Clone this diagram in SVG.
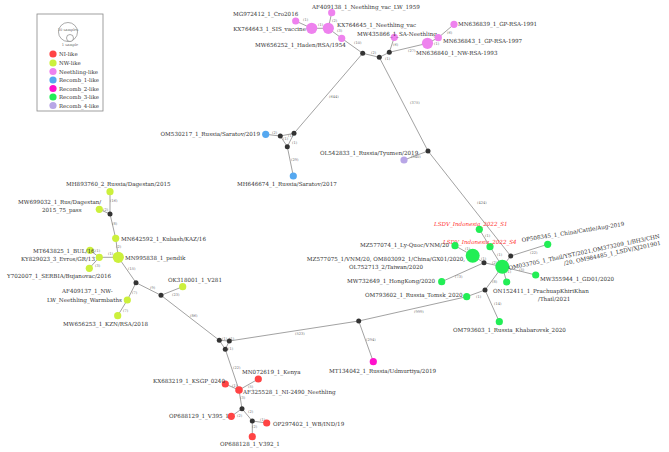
<svg xmlns="http://www.w3.org/2000/svg" width="669" height="452" viewBox="0 0 669 452">
<style>
.e{stroke:#8a8a8a;stroke-width:0.8;fill:none}
.t{font-family:"DejaVu Serif",serif;font-size:5.6px;fill:#333}
.r{font-family:"DejaVu Serif",serif;font-size:5.6px;fill:#ff3333;font-style:italic}
.l{font-family:"DejaVu Serif",serif;font-size:3.6px;fill:#666}
.lg{font-family:"DejaVu Serif",serif;font-size:5.4px;fill:#333}
.b{fill:#333}
.ni{fill:#ff4444}.nw{fill:#ccf03c}.ne{fill:#ee82ee}.r1{fill:#55a8f0}.r2{fill:#ff11cc}.r3{fill:#22ee55}.r4{fill:#b8a6e6}
</style>
<rect width="669" height="452" fill="#fff"/>
<g id="legend">
<rect x="37" y="14" width="66" height="97" fill="#fff" stroke="#888" stroke-width="0.8"/>
<circle cx="68" cy="32" r="9.5" fill="#fff" stroke="#555" stroke-width="0.5"/>
<circle cx="70" cy="38" r="3.5" fill="#fff" stroke="#555" stroke-width="0.5"/>
<text x="68" y="31" class="l" text-anchor="middle" font-size="2.6">10 samples</text>
<text x="70" y="46" class="l" text-anchor="middle" font-size="2.6">1 sample</text>
<circle cx="53" cy="54" r="3.6" class="ni"/><text x="59" y="56" class="lg">NI-like</text>
<circle cx="53" cy="63" r="3.6" class="nw"/><text x="59" y="65" class="lg">NW-like</text>
<circle cx="53" cy="71.5" r="3.6" class="ne"/><text x="59" y="73.5" class="lg">Neethling-like</text>
<circle cx="53" cy="80" r="3.6" class="r1"/><text x="59" y="82" class="lg">Recomb_1-like</text>
<circle cx="53" cy="88.5" r="3.6" class="r2"/><text x="59" y="90.5" class="lg">Recomb_2-like</text>
<circle cx="53" cy="97" r="3.6" class="r3"/><text x="59" y="99" class="lg">Recomb_3-like</text>
<circle cx="53" cy="105.5" r="3.6" class="r4"/><text x="59" y="107.5" class="lg">Recomb_4-like</text>
</g>
<g id="connectors">
<path class="e" d="M295.7,21L311.7,28.3M331.7,12.7L328.3,28.3M311.7,28.3L328.3,28.3M328.3,28.3L341.7,38.3L362.7,53.3L379.3,57.3L389.3,52.3L394.3,37.3M389.3,52.3L427.5,43.3L438.3,37.7L454,24.3"/>
<path class="e" d="M362.7,53.3L294,133.3M379.3,57.3L428,151L510.7,256M428,151L404,160"/>
<path class="e" d="M294,133.3L280.3,136L265.7,134.3M294,133.3L287.3,146.7L280.3,136M287.3,146.7L293.3,176"/>
<path class="e" d="M510.7,256L547.7,244.3M510.7,256L502.3,266.7L490,246.7L479.3,229.3M502.3,266.7L484,262.7L472.7,255.7L455,245.7M484,262.7L441.7,281.7M502.3,266.7L535.7,275M502.3,266.7L506.7,282M502.3,266.7L485,290L466.7,296.7M485,290L499.3,321.7"/>
<path class="e" d="M466.7,296.7L358.7,321L229.3,341M358.7,321L373.3,361.7M229.3,341L219.3,340.3L225.3,349.3L229.3,341M219.3,340.3L161,295.3"/>
<path class="e" d="M225.3,349.3L239,390L225.3,384M239,390L258.3,379M239,390L242,408.7L231.3,416.3M242,408.7L252.3,421L266.7,423M252.3,421L252.3,436.7"/>
<path class="e" d="M161,295.3L182.7,286.7M161,295.3L136,282.7L127.3,300L117.7,315.7M136,282.7L118.3,257.3L99.3,257.3L90,250.3M99.3,257.3L89.3,268.3M118.3,257.3L115.7,238.3L110,214L110,191.7M110,214L99.3,209.3"/>
<g class="l">
<text x="303" y="21">(1)</text><text x="318" y="26">(1)</text><text x="332" y="22">(2)</text><text x="337" y="32">(3)</text>
<text x="354" y="44">(10)</text><text x="371" y="54">(2)</text><text x="385" y="60">(1)</text><text x="393" y="46">(6)</text>
<text x="408" y="52">(27)</text><text x="434" y="45">(1)</text><text x="447" y="34">(6)</text>
<text x="329" y="98">(644)</text><text x="410" y="104">(375)</text><text x="477" y="204">(424)</text><text x="411" y="158">(340)</text>
<text x="272" y="134">(2)</text><text x="283" y="140">(1)</text><text x="288" y="137">(1)</text><text x="292" y="144">(1)</text><text x="291" y="161">(29)</text>
<text x="485" y="237">(1)</text><text x="497" y="256">(1)</text><text x="465" y="250">(1)</text><text x="481" y="260">(1)</text><text x="492" y="264">(2)</text>
<text x="530" y="254">(22)</text><text x="519" y="271">(5)</text><text x="506" y="273">(1)</text><text x="455" y="278">(73)</text>
<text x="492" y="283">(8)</text><text x="476" y="298">(1)</text><text x="494" y="305">(14)</text>
<text x="414" y="313">(999)</text><text x="295" y="335">(523)</text><text x="366" y="341">(294)</text>
<text x="190" y="317">(86)</text><text x="233" y="369">(22)</text><text x="222" y="340">(1)</text><text x="229" y="340">(1)</text><text x="228" y="350">(1)</text>
<text x="232" y="387">(1)</text><text x="248" y="388">(5)</text><text x="240" y="399">(3)</text><text x="237" y="417">(2)</text><text x="248" y="413">(2)</text><text x="260" y="421">(1)</text><text x="252" y="428">(2)</text>
<text x="110" y="202">(16)</text><text x="103" y="211">(2)</text><text x="112" y="225">(8)</text><text x="116" y="248">(2)</text><text x="108" y="255">(1)</text><text x="95" y="252">(1)</text><text x="95" y="267">(3)</text>
<text x="128" y="270">(15)</text><text x="150" y="289">(9)</text><text x="172" y="296">(23)</text><text x="132" y="294">(7)</text><text x="123" y="312">(7)</text>
</g>
</g>
<g id="n-AF409138"><circle cx="331.7" cy="12.7" r="3.6" class="ne"/><text x="312" y="9" class="t">AF409138_1_Neethling_vac_LW_1959</text></g>
<g id="n-MG972412"><circle cx="295.7" cy="21" r="3.6" class="ne"/><text x="233" y="16" class="t">MG972412_1_Cro2016</text></g>
<g id="n-KX764643"><circle cx="311.7" cy="28.3" r="5.6" class="ne"/><text x="306" y="31" class="t" text-anchor="end">KX764643_1_SIS_vaccine</text></g>
<g id="n-KX764645"><circle cx="328.3" cy="28.3" r="5.6" class="ne"/><text x="337" y="27" class="t">KX764645_1_Neethling_vac</text></g>
<g id="n-MW656252"><circle cx="341.7" cy="38.3" r="3.6" class="ne"/><text x="255" y="47" class="t">MW656252_1_Haden/RSA/1954</text></g>
<g id="n-MW435866"><circle cx="394.3" cy="37.3" r="3.6" class="ne"/><text x="357" y="36" class="t">MW435866_1_SA-Neethling</text></g>
<g id="n-MN636840"><circle cx="427.5" cy="43.3" r="5.6" class="ne"/><text x="416" y="55" class="t">MN636840_1_NW-RSA-1993</text></g>
<g id="n-MN636843"><circle cx="438.3" cy="37.7" r="3.6" class="ne"/><text x="443" y="43" class="t">MN636843_1_GP-RSA-1997</text></g>
<g id="n-MN636839"><circle cx="454" cy="24.3" r="3.6" class="ne"/><text x="458" y="26" class="t">MN636839_1_GP-RSA-1991</text></g>
<g id="n-black"><circle cx="362.7" cy="53.3" r="2.5" class="b"/><circle cx="379.3" cy="57.3" r="2.5" class="b"/><circle cx="389.3" cy="52.3" r="2.5" class="b"/>
<circle cx="294" cy="133.3" r="2.5" class="b"/><circle cx="280.3" cy="136" r="2.5" class="b"/><circle cx="287.3" cy="146.7" r="2.5" class="b"/>
<circle cx="428" cy="151" r="2.5" class="b"/><circle cx="510.7" cy="256" r="2.5" class="b"/><circle cx="484" cy="262.7" r="2.5" class="b"/><circle cx="485" cy="290" r="2.5" class="b"/>
<circle cx="358.7" cy="321" r="2.5" class="b"/><circle cx="229.3" cy="341" r="2.5" class="b"/><circle cx="219.3" cy="340.3" r="2.5" class="b"/><circle cx="225.3" cy="349.3" r="2.5" class="b"/>
<circle cx="242" cy="408.7" r="2.5" class="b"/><circle cx="252.3" cy="421" r="2.5" class="b"/>
<circle cx="161" cy="295.3" r="2.5" class="b"/><circle cx="136" cy="282.7" r="2.5" class="b"/><circle cx="110" cy="214" r="2.5" class="b"/></g>
<g id="n-OM530217"><circle cx="265.7" cy="134.3" r="3.6" class="r1"/><text x="260" y="136" class="t" text-anchor="end">OM530217_1_Russia/Saratov/2019</text></g>
<g id="n-MH646674"><circle cx="293.3" cy="176" r="3.6" class="r1"/><text x="237" y="186" class="t">MH646674_1_Russia/Saratov/2017</text></g>
<g id="n-OL542833"><circle cx="404" cy="160" r="3.6" class="r4"/><text x="320" y="155" class="t">OL542833_1_Russia/Tyumen/2019</text></g>
<g id="n-MH893760"><circle cx="110" cy="191.7" r="3.6" class="nw"/><text x="66" y="186" class="t">MH893760_2_Russia/Dagestan/2015</text></g>
<g id="n-MW699032"><circle cx="99.3" cy="209.3" r="3.6" class="nw"/><text x="18" y="204" class="t">MW699032_1_Rus/Dagestan/</text><text x="42" y="211.5" class="t">2015_75_pass</text></g>
<g id="n-MN642592"><circle cx="115.7" cy="238.3" r="3.6" class="nw"/><text x="121" y="241" class="t">MN642592_1_Kubash/KAZ/16</text></g>
<g id="n-MN995838"><circle cx="118.3" cy="257.3" r="5.6" class="nw"/><text x="125" y="259.5" class="t">MN995838_1_pendik</text></g>
<g id="n-KY829023"><circle cx="99.3" cy="257.3" r="3.6" class="nw"/><text x="21" y="261" class="t">KY829023_3_Evros/GR/13</text></g>
<g id="n-MT643825"><circle cx="90" cy="250.3" r="3.6" class="nw"/><text x="33" y="253" class="t">MT643825_1_BUL/16</text></g>
<g id="n-Y702007"><circle cx="89.3" cy="268.3" r="3.6" class="nw"/><text x="7" y="278" class="t">Y702007_1_SERBIA/Bujanovac/2016</text></g>
<g id="n-OK318001"><circle cx="182.7" cy="286.7" r="3.6" class="nw"/><text x="168" y="282" class="t">OK318001_1_V281</text></g>
<g id="n-AF409137"><circle cx="127.3" cy="300" r="3.6" class="nw"/><text x="62" y="293" class="t">AF409137_1_NW-</text><text x="47" y="301.5" class="t">LW_Neethling_Warmbaths</text></g>
<g id="n-MW656253"><circle cx="117.7" cy="315.7" r="3.6" class="nw"/><text x="63" y="326" class="t">MW656253_1_KZN/RSA/2018</text></g>
<g id="n-KX683219"><circle cx="225.3" cy="384" r="3.6" class="ni"/><text x="153" y="383" class="t">KX683219_1_KSGP_0240</text></g>
<g id="n-AF325528"><circle cx="239" cy="390" r="3.8" class="ni"/><text x="243" y="394" class="t">AF325528_1_NI-2490_Neethling</text></g>
<g id="n-MN072619"><circle cx="258.3" cy="379" r="3.6" class="ni"/><text x="242" y="374" class="t">MN072619_1_Kenya</text></g>
<g id="n-OP688129"><circle cx="231.3" cy="416.3" r="3.6" class="ni"/><text x="169" y="418" class="t">OP688129_1_V395_1</text></g>
<g id="n-OP297402"><circle cx="266.7" cy="423" r="3.6" class="ni"/><text x="273" y="426" class="t">OP297402_1_WB/IND/19</text></g>
<g id="n-OP688128"><circle cx="252.3" cy="436.7" r="3.6" class="ni"/><text x="220" y="446" class="t">OP688128_1_V392_1</text></g>
<g id="n-MT134042"><circle cx="373.3" cy="361.7" r="3.6" class="r2"/><text x="329" y="373" class="t">MT134042_1_Russia/Udmurtiya/2019</text></g>
<g id="n-LSDV-S1"><circle cx="479.3" cy="229.3" r="3.6" class="r3"/><text x="434" y="226" class="r">LSDV_Indonesia_2022_S1</text></g>
<g id="n-LSDV-S4"><circle cx="490" cy="246.7" r="3.6" class="r3"/><text x="443" y="244" class="r">LSDV_Indonesia_2022_S4</text></g>
<g id="n-MZ577074"><circle cx="455" cy="245.7" r="3.6" class="r3"/><text x="360" y="246.5" class="t">MZ577074_1_Ly-Quoc/VNM/20</text></g>
<g id="n-MZ577075"><circle cx="472.7" cy="255.7" r="7" class="r3"/><text x="386" y="261" class="t" text-anchor="middle">MZ577075_1/VNM/20, OM803092_1/China/GX01/2020,</text><text x="386" y="269" class="t" text-anchor="middle">OL752713_2/Taiwan/2020</text></g>
<g id="n-MW732649"><circle cx="441.7" cy="281.7" r="3.6" class="r3"/><text x="347" y="283" class="t">MW732649_1_HongKong/2020</text></g>
<g id="n-OM793602"><circle cx="466.7" cy="296.7" r="3.6" class="r3"/><text x="365" y="297" class="t">OM793602_1_Russia_Tomsk_2020</text></g>
<g id="n-OM793603"><circle cx="499.3" cy="321.7" r="3.6" class="r3"/><text x="453" y="332" class="t">OM793603_1_Russia_Khabarovsk_2020</text></g>
<g id="n-ON152411"><circle cx="506.7" cy="282" r="3.6" class="r3"/><text x="493" y="293" class="t">ON152411_1_PrachuapKhiriKhan</text><text x="538" y="301" class="t">/Thail/2021</text></g>
<g id="n-MW355944"><circle cx="535.7" cy="275" r="3.6" class="r3"/><text x="540" y="281" class="t">MW355944_1_GD01/2020</text></g>
<g id="n-OP508345"><circle cx="547.7" cy="244.3" r="3.6" class="r3"/><text transform="translate(522,242) rotate(-9)" class="t">OP508345_1_China/Cattle/Aug-2019</text></g>
<g id="n-OM033705"><circle cx="502.3" cy="266.7" r="7" class="r3"/><text transform="translate(509,270) rotate(-12)" class="t">OM033705_1_Thail/YST/2021,OM373209_1/BH3/CHN<tspan x="55" dy="7">/20, OM984485_1_LSDV/XJ201901</tspan></text></g>
</svg>
